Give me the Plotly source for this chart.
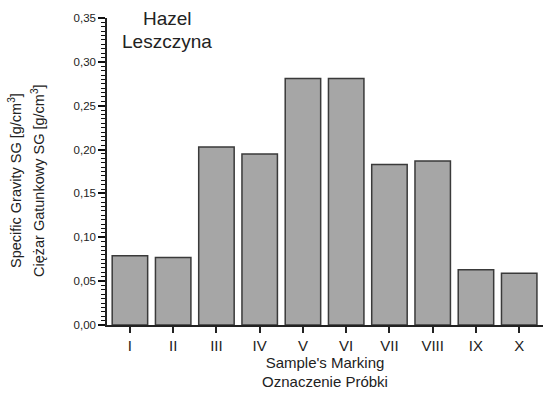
import plotly.graph_objects as go

samples = ["I", "II", "III", "IV", "V", "VI", "VII", "VIII", "IX", "X"]
sg_values = [0.079, 0.077, 0.203, 0.195, 0.281, 0.281, 0.183, 0.187, 0.063, 0.059]

W, H = 543, 394
ml, mr, mt, mb = 107, 0, 18, 69
pw, ph = W - ml - mr, H - mt - mb

fig = go.Figure()
fig.add_trace(go.Bar(
    x=list(range(len(samples))), y=sg_values, width=0.82,
    marker=dict(color="#a6a6a6", line=dict(color="#3a3a3a", width=1.5)),
))

font = "Liberation Sans, Arial, sans-serif"
fig.update_layout(
    width=W, height=H, margin=dict(l=ml, r=mr, t=mt, b=mb),
    paper_bgcolor="white", plot_bgcolor="white",
    separators=", ", showlegend=False,
    font=dict(family=font, color="#222"),
    xaxis=dict(
        range=[-0.53, 9.55], tickmode="array",
        tickvals=list(range(len(samples))), ticktext=samples,
        showline=True, linecolor="#222", linewidth=1.5,
        ticks="outside", ticklen=6, tickwidth=1.5, tickcolor="#222",
        showgrid=False, zeroline=False,
        tickfont=dict(size=15, family=font),
        title=dict(text="Sample's Marking<br>Oznaczenie Próbki", font=dict(size=15, family=font), standoff=2),
    ),
    yaxis=dict(
        range=[0, 0.35], dtick=0.05, tickformat=".2f",
        showline=True, linecolor="#222", linewidth=1.5,
        ticks="outside", ticklen=7, tickwidth=1.5, tickcolor="#111",
        minor=dict(dtick=0.005, ticks="outside", ticklen=4, tickwidth=1.3, tickcolor="#111"),
        showgrid=False, zeroline=False,
        tickfont=dict(size=11.5, family=font),
    ),
    annotations=[
        dict(text="Specific Gravity SG [g/cm<sup>3</sup>]",
             xref="paper", yref="paper", x=-(ml - 15) / pw, y=(325 - 181) / ph,
             xanchor="center", yanchor="middle", textangle=-90, showarrow=False,
             font=dict(size=14.5, family=font, color="#222")),
        dict(text="Ciężar Gatunkowy SG [g/cm<sup>3</sup>]",
             xref="paper", yref="paper", x=-(ml - 38) / pw, y=(325 - 181) / ph,
             xanchor="center", yanchor="middle", textangle=-90, showarrow=False,
             font=dict(size=14.5, family=font, color="#222")),
        dict(text="Hazel", xref="paper", yref="paper",
             x=(167 - ml) / pw, y=(325 - 18) / ph,
             xanchor="center", yanchor="middle", showarrow=False,
             font=dict(size=19, family=font, color="#222")),
        dict(text="Leszczyna", xref="paper", yref="paper",
             x=(167 - ml) / pw, y=(325 - 41) / ph,
             xanchor="center", yanchor="middle", showarrow=False,
             font=dict(size=19, family=font, color="#222")),
    ],
)

fig.write_html("out.html")
